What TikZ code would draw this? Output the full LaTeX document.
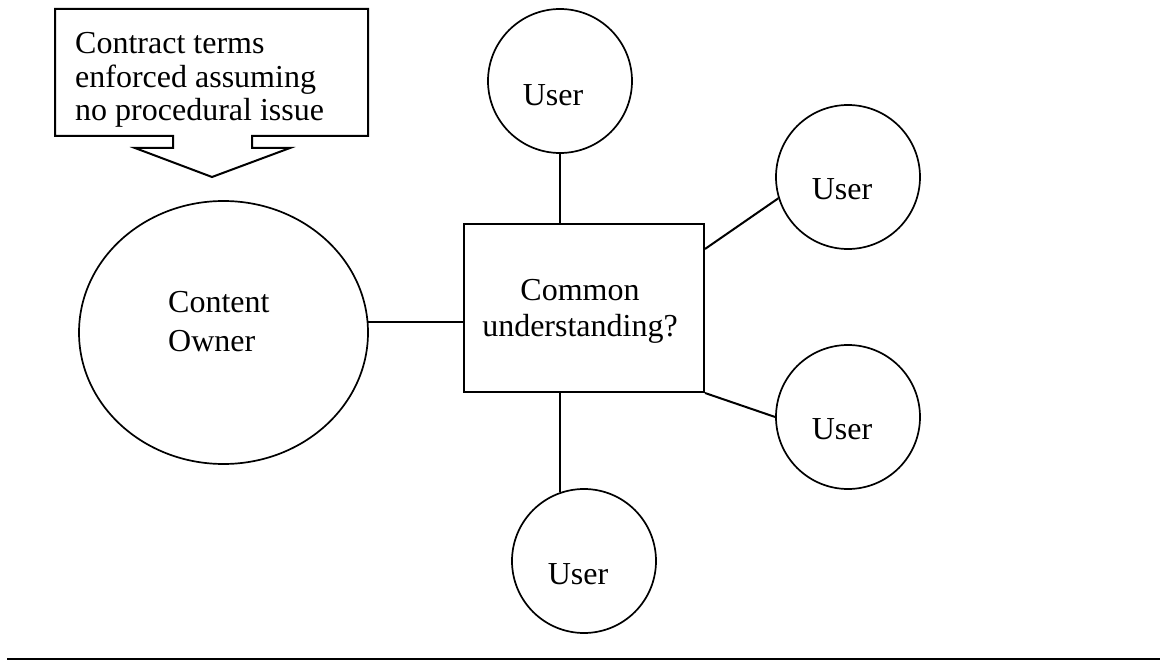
\documentclass[tikz,border=0pt]{standalone}
\usepackage{fontspec}
\setmainfont{Liberation Serif}
\usetikzlibrary{shapes.geometric}
\begin{document}
\begin{tikzpicture}[x=1pt,y=-1pt,
  every node/.style={font=\fontsize{32}{38}\selectfont},
  ln/.style={line width=2pt,black},
  usercircle/.style={draw,circle,line width=1.7pt,minimum size=144pt,inner sep=0pt},
  usertext/.style={inner sep=0pt}
]
\useasboundingbox (0,0) rectangle (1160,660);

% callout
\draw[ln,line join=miter] (55,9) -- (368,9) -- (368,136) -- (252,136) -- (252,148) -- (290,148)
  -- (212,177) -- (135,148) -- (173,148) -- (173,136) -- (55,136) -- cycle;
\node[anchor=base west,align=left,inner sep=0pt,font=\fontsize{32}{33.5}\selectfont] (callout) at (75,121)
  {Contract terms\\enforced assuming\\no procedural issue};

% content owner
\node[draw,ellipse,line width=1.7pt,minimum width=289pt,minimum height=263pt,inner sep=0pt] (owner) at (223.5,332.5) {};
\node[anchor=base west,align=left,inner sep=0pt,font=\fontsize{32}{39}\selectfont] (ownertext) at (168,352) {Content\\Owner};

% center rectangle
\node[draw,rectangle,line width=2pt,minimum width=240pt,minimum height=168pt,inner sep=0pt] (rect) at (584,308) {};
\node[anchor=base,align=center,inner sep=0pt,font=\fontsize{32}{36}\selectfont] (recttext) at (580,337) {Common\\understanding?};

% user circles
\node[usercircle] (u1) at (560,81) {};
\node[usertext] (t1) at (553,95) {User};
\node[usercircle] (u2) at (848,177) {};
\node[usertext] (t2) at (842,189) {User};
\node[usercircle] (u3) at (848,417) {};
\node[usertext] (t3) at (842,429) {User};
\node[usercircle] (u4) at (584,561) {};
\node[usertext] (t4) at (578,574) {User};

% connectors
\draw[ln] (owner.4.6) -- (rect.west |- owner.4.6);
\draw[ln] (u1.south) -- (u1.south |- rect.north);
\draw[ln] (rect.south -| u4.109.5) -- (u4.109.5);
\draw[ln] (rect.26.57) -- (u2.197.7);
\draw[ln] (rect.south east) -- (u3.west);

% bottom rule
\coordinate (rl) at (7,658.5);
\coordinate (rr) at (1160,658.5);
\draw[ln] (rl) -- (rr);
\end{tikzpicture}
\end{document}
